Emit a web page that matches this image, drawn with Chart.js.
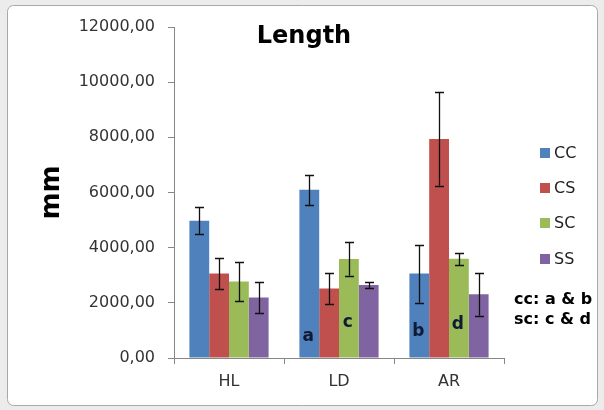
<!DOCTYPE html>
<html>
<head>
<meta charset="utf-8">
<script src="https://cdn.jsdelivr.net/npm/chart.js@4/dist/chart.umd.min.js"></script>
<style>
html,body{margin:0;padding:0;background:#ececec;}
#wrap{width:604px;height:410px;}
</style>
</head>
<body>
<div id="wrap"><canvas id="c" width="604" height="410"></canvas></div>
<script>
// ---- data ----
const categories = ['HL', 'LD', 'AR'];
const seriesNames = ['CC', 'CS', 'SC', 'SS'];
const ccValues = [4980, 6100, 3060];
const csValues = [3060, 2520, 7940];
const scValues = [2770, 3590, 3600];
const ssValues = [2190, 2650, 2310];
const ccErrors = [490, 540, 1050];
const csErrors = [560, 560, 1690];
const scErrors = [720, 600, 220];
const ssErrors = [550, 110, 770];
const yTicksMax = 12000;
const yTickStep = 2000;
const chartTitle = 'Length';
const yAxisTitle = 'mm';
const noteLines = ['cc: a & b', 'sc: c & d'];
const letterTexts = ['a', 'c', 'b', 'd'];
const letterSeries = [0, 2, 0, 2];
const letterCategory = [1, 1, 2, 2];
const letterValues = [770, 1300, 950, 1200];

const colors = ['#4F81BD', '#C0504D', '#9BBB59', '#8064A2'];
const allValues = [ccValues, csValues, scValues, ssValues];
const allErrors = [ccErrors, csErrors, scErrors, ssErrors];

const datasets = seriesNames.map((n, i) => ({
  label: n,
  data: allValues[i],
  errors: allErrors[i],
  backgroundColor: colors[i],
  borderWidth: 0,
  categoryPercentage: 0.72,
  barPercentage: 1.0
}));

const FONT = "'DejaVu Sans', sans-serif";

const framePlugin = {
  id: 'frame',
  beforeDraw(chart) {
    const ctx = chart.ctx;
    ctx.save();
    ctx.fillStyle = '#ececec';
    ctx.fillRect(0, 0, chart.width, chart.height);
    ctx.fillStyle = '#ffffff';
    ctx.strokeStyle = '#a8a8a8';
    ctx.lineWidth = 1;
    ctx.beginPath();
    ctx.roundRect(7.5, 5.5, 590, 400, 6);
    ctx.fill();
    ctx.stroke();
    ctx.restore();
  }
};

const errorPlugin = {
  id: 'errbars',
  afterDatasetsDraw(chart) {
    const ctx = chart.ctx;
    const y = chart.scales.y;
    ctx.save();
    ctx.strokeStyle = '#111111';
    ctx.lineWidth = 1.3;
    chart.data.datasets.forEach((ds, di) => {
      const meta = chart.getDatasetMeta(di);
      meta.data.forEach((bar, i) => {
        const v = ds.data[i], e = ds.errors[i];
        const yt = y.getPixelForValue(v + e);
        const yb = y.getPixelForValue(v - e);
        const x = Math.round(bar.x) + 0.5;
        ctx.beginPath();
        ctx.moveTo(x, yt); ctx.lineTo(x, yb);
        ctx.moveTo(x - 4.5, Math.round(yt) + 0.5); ctx.lineTo(x + 4.5, Math.round(yt) + 0.5);
        ctx.moveTo(x - 4.5, Math.round(yb) + 0.5); ctx.lineTo(x + 4.5, Math.round(yb) + 0.5);
        ctx.stroke();
      });
    });
    // letters inside bars
    ctx.fillStyle = '#101a35';
    ctx.font = 'bold 17px ' + FONT;
    ctx.textAlign = 'center';
    ctx.textBaseline = 'middle';
    letterTexts.forEach((t, k) => {
      const meta = chart.getDatasetMeta(letterSeries[k]);
      const bar = meta.data[letterCategory[k]];
      ctx.fillText(t, bar.x - 1, y.getPixelForValue(letterValues[k]));
    });
    ctx.restore();
  },
  afterDraw(chart) {
    const ctx = chart.ctx;
    ctx.save();
    // title
    ctx.fillStyle = '#000000';
    ctx.font = 'bold 24px ' + FONT;
    ctx.textAlign = 'center';
    ctx.textBaseline = 'middle';
    ctx.fillText(chartTitle, 304, 37);
    // legend
    const ly = [153, 188, 223, 259];
    ctx.font = '16px ' + FONT;
    ctx.textAlign = 'left';
    seriesNames.forEach((n, i) => {
      ctx.fillStyle = colors[i];
      ctx.fillRect(540, ly[i] - 5, 10, 10);
      ctx.fillStyle = '#222222';
      ctx.fillText(n, 554, ly[i] + 1);
    });
    // notes
    ctx.fillStyle = '#000000';
    ctx.font = 'bold 16px ' + FONT;
    ctx.fillText(noteLines[0], 514, 300);
    ctx.fillText(noteLines[1], 514, 320);
    ctx.restore();
  }
};

new Chart(document.getElementById('c'), {
  type: 'bar',
  data: { labels: categories, datasets },
  options: {
    responsive: false,
    animation: false,
    devicePixelRatio: 1,
    layout: { padding: { top: 27, right: 100, left: 0, bottom: 0 } },
    plugins: { legend: { display: false }, title: { display: false }, tooltip: { enabled: false } },
    scales: {
      x: {
        afterFit(s) { s.height = 52; },
        grid: { display: true, drawOnChartArea: false, drawTicks: true, tickLength: 6, color: '#868686' },
        border: { display: true, color: '#868686', width: 1 },
        ticks: { color: '#333333', font: { family: FONT, size: 16 }, padding: 8 }
      },
      y: {
        min: 0,
        max: yTicksMax,
        afterFit(s) { s.width = 174; },
        grid: { display: true, drawOnChartArea: false, drawTicks: true, tickLength: 6, color: '#868686' },
        border: { display: true, color: '#868686', width: 1 },
        ticks: {
          stepSize: yTickStep,
          color: '#333333',
          font: { family: FONT, size: 16 },
          padding: 13,
          callback: v => v.toFixed(2).replace('.', ',')
        },
        title: {
          display: true,
          text: yAxisTitle,
          color: '#000000',
          font: { family: FONT, size: 26, weight: 'bold' },
          padding: { top: 37, bottom: 0 }
        }
      }
    }
  },
  plugins: [framePlugin, errorPlugin]
});
</script>
</body>
</html>
